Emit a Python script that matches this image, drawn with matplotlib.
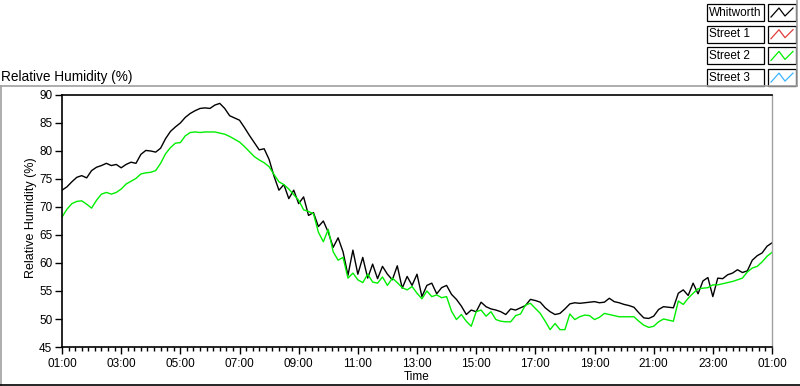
import numpy as np
import matplotlib
matplotlib.use('Agg')
import matplotlib.pyplot as plt
from matplotlib.lines import Line2D
from matplotlib.patches import Rectangle
from matplotlib.ticker import FixedLocator, FuncFormatter

plt.rcParams['font.family'] = ['Liberation Sans', 'DejaVu Sans']

# minutes after 01:00, every 10 minutes over 24 hours
minutes = np.arange(0, 1441, 10)

whitworth = [
    73.0, 73.6, 74.5, 75.3, 75.6, 75.2, 76.5, 77.1, 77.4, 77.8,
    77.4, 77.6, 77.0, 77.6, 78.0, 77.8, 79.4, 80.1, 80.0, 79.8,
    80.5, 82.2, 83.5, 84.3, 85.0, 86.0, 86.7, 87.2, 87.6, 87.7,
    87.6, 88.2, 88.5, 87.6, 86.3, 85.9, 85.5, 84.2, 82.8, 81.5,
    80.2, 80.4, 78.5, 75.5, 73.0, 74.0, 71.5, 73.0, 70.6, 71.8,
    68.5, 69.0, 66.5, 67.5, 65.5, 62.8, 64.5, 62.0, 57.8, 62.3,
    58.0, 61.0, 57.3, 59.8, 57.2, 59.4, 58.0, 57.0, 59.5, 55.5,
    57.6, 56.0, 58.0, 54.0, 56.0, 56.4, 54.5, 55.6, 56.0, 54.4,
    53.5, 52.3, 50.8, 51.6, 51.3, 53.0, 52.2, 51.8, 51.6, 51.3,
    50.8, 51.8, 51.6, 52.0, 52.4, 53.5, 53.3, 53.0, 52.0, 51.3,
    50.8, 51.0, 51.8, 52.7, 52.9, 52.8, 52.9, 53.0, 53.1, 52.9,
    53.0, 53.7, 53.1, 52.9, 52.6, 52.4, 52.1, 51.1, 50.2, 50.1,
    50.5, 51.7, 52.2, 52.1, 52.0, 54.6, 55.2, 54.2, 56.4, 54.5,
    56.8, 57.4, 54.0, 57.3, 57.2, 57.9, 58.2, 58.8, 58.3, 58.6,
    60.5, 61.3, 61.8, 63.0, 63.6,
]

street2 = [
    68.2, 69.6, 70.6, 71.0, 71.1, 70.5, 69.8, 71.2, 72.3, 72.6,
    72.3, 72.6, 73.2, 74.1, 74.6, 75.1, 75.9, 76.1, 76.2, 76.5,
    77.8, 79.5, 80.6, 81.4, 81.5, 82.7, 83.3, 83.4, 83.3, 83.4,
    83.4, 83.4, 83.2, 83.0, 82.6, 82.1, 81.6, 80.8, 79.9, 79.0,
    78.4, 77.9, 77.2, 75.8, 74.5, 74.0, 73.2, 72.2, 71.2, 69.5,
    69.2, 68.8, 65.5, 63.8, 66.0, 62.0, 60.5, 61.0, 57.3, 58.2,
    57.0, 56.5, 58.0, 56.6, 56.4, 57.5, 56.0, 57.3, 56.5, 55.6,
    55.2, 55.8, 54.6, 53.6, 55.0, 54.0, 54.3, 53.8, 54.0, 51.4,
    49.9, 50.8, 49.6, 48.7, 51.3, 51.6, 50.5, 51.3, 49.9, 49.6,
    49.5, 49.5, 50.6, 50.9, 52.5, 52.8, 51.9, 51.0, 49.6, 48.1,
    49.2, 48.1, 48.1, 50.9, 49.9, 50.4, 50.7, 50.6, 49.9, 50.3,
    51.0, 50.8, 50.6, 50.4, 50.4, 50.4, 50.4, 49.6, 48.9, 48.5,
    48.7, 49.5, 50.0, 49.8, 49.6, 53.2, 52.6, 53.7, 54.6, 55.4,
    55.5, 55.6, 56.1, 56.1, 56.3, 56.5, 56.7, 57.0, 57.3, 58.4,
    59.1, 59.4, 60.2, 61.2, 61.9,
]

series_names = ['Whitworth', 'Street 1', 'Street 2', 'Street 3']
series_colors = ['#000000', '#e03c3c', '#00ee00', '#3cb4ff']

W, H = 800, 386
FS = 8.5


def fx(px):
    return px / W


def fy(py):
    return 1 - py / H


fig = plt.figure(figsize=(W / 100, H / 100), dpi=100)
fig.patch.set_facecolor('white')
ax = fig.add_axes([fx(62), fy(347), fx(772) - fx(62), fy(95) - fy(347)])

ax.plot(minutes, whitworth, color=series_colors[0], lw=1.0)
ax.plot(minutes, street2, color=series_colors[2], lw=1.0)

ax.set_xlim(0, 1440)
ax.set_ylim(45, 90)
ax.set_yticks(np.arange(45, 91, 5))
ax.xaxis.set_major_locator(FixedLocator(np.arange(0, 1441, 120)))
ax.xaxis.set_minor_locator(FixedLocator(np.arange(0, 1441, 120 / 9)))
ax.xaxis.set_major_formatter(FuncFormatter(
    lambda v, p: '%02d:00' % ((int(round(v / 60)) + 1) % 24)))

for s in ['left', 'bottom', 'top']:
    ax.spines[s].set_color('black')
    ax.spines[s].set_linewidth(1.2)
ax.spines['right'].set_color('#a0a0a0')
ax.spines['right'].set_linewidth(1.0)
ax.tick_params(axis='both', which='major', direction='out', length=5,
               width=1, labelsize=FS, pad=2)
ax.tick_params(axis='x', which='minor', direction='out', length=3, width=1)
ax.tick_params(axis='x', which='major', pad=3)

fig.text(fx(1), fy(77), 'Relative Humidity (%)', fontsize=9.8,
         ha='left', va='center')
fig.text(fx(31), fy(218), 'Relative Humidity (%)', fontsize=9,
         ha='center', va='center', rotation=90)
fig.text(fx(417), fy(377), 'Time', fontsize=FS, ha='center', va='center')

# outer frame
frame = [
    ([0, 797], [86, 86], '#a0a0a0'),
    ([797, 797], [0, 86], '#a0a0a0'),
    ([1, 1], [86, 385], '#a0a0a0'),
    ([0, 800], [385, 385], '#000000'),
]
for xs, ys, c in frame:
    fig.add_artist(Line2D([fx(v) for v in xs], [fy(v) for v in ys],
                          color=c, lw=1.2))

# legend panel
for i, (name, col) in enumerate(zip(series_names, series_colors)):
    top = 4 + i * 21.7
    fig.add_artist(Rectangle((fx(707), fy(top + 17)), fx(57), 17 / H,
                             facecolor='white', edgecolor='black', lw=0.9))
    fig.add_artist(Rectangle((fx(768), fy(top + 17)), fx(28), 17 / H,
                             facecolor='white', edgecolor='black', lw=0.9))
    fig.text(fx(709), fy(top + 8.5), name, fontsize=FS,
             ha='left', va='center')
    zx = [771, 779, 785, 793]
    zy = [top + 13, top + 4, top + 12, top + 4]
    fig.add_artist(Line2D([fx(v) for v in zx], [fy(v) for v in zy],
                          color=col, lw=0.9))

fig.savefig('out.png', dpi=100, facecolor='white')
